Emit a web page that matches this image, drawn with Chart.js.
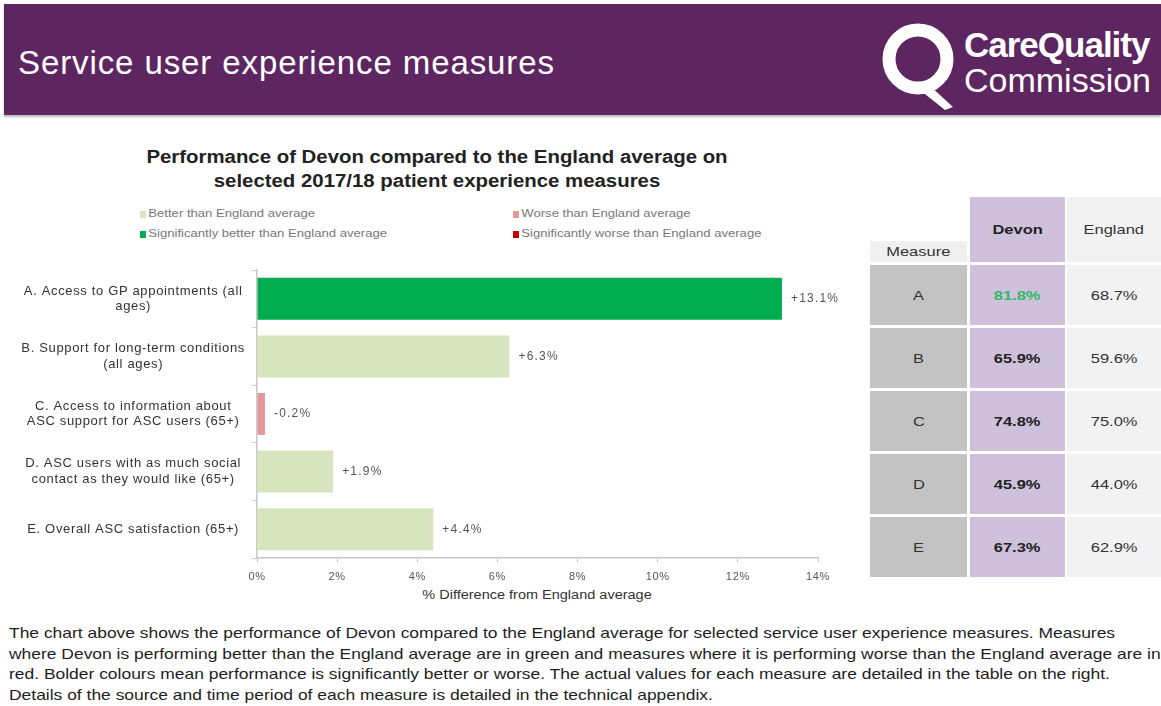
<!DOCTYPE html>
<html>
<head>
<meta charset="utf-8">
<script src="https://cdn.jsdelivr.net/npm/chart.js@4"></script>
<style>
  html,body{margin:0;padding:0;background:#fff;}
  body{width:1161px;height:706px;position:relative;overflow:hidden;font-family:"Liberation Sans",Arial,sans-serif;}
  #band{position:absolute;left:4px;top:4px;width:1157px;height:111px;background:#5d2660;box-shadow:0 2px 2px #bbb;}
  #bandTitle{position:absolute;left:14px;top:40px;color:#fff;font-size:33px;letter-spacing:0.9px;white-space:nowrap;}
  #logo{position:absolute;left:872px;top:10px;}
  #ctitle{position:absolute;left:87px;width:700px;top:145px;text-align:center;font-weight:bold;font-size:17.5px;line-height:24px;color:#222;transform:scaleX(1.165);transform-origin:50% 0;}
  .leg{position:absolute;font-size:11px;color:#777;white-space:nowrap;transform:scaleX(1.19);transform-origin:0 50%;}
  .leg i{display:inline-block;width:5px;height:7px;margin-right:2px;vertical-align:-1px;}
  #wrap{position:absolute;left:0;top:255px;width:860px;height:330px;}
  #xtitle{position:absolute;left:337px;width:400px;top:588px;text-align:center;font-size:12.5px;color:#333;transform:scaleX(1.16);transform-origin:50% 0;}
  #foot{position:absolute;left:9px;top:623px;font-size:14.6px;line-height:20.5px;color:#1e1e1e;white-space:nowrap;transform:scaleX(1.195);transform-origin:0 0;}
  .cell{position:absolute;display:flex;align-items:center;justify-content:center;font-size:13.5px;color:#333;}
  .cell span{display:inline-block;transform:scaleX(1.22);}
</style>
</head>
<body>
<div id="band">
  <div id="bandTitle">Service user experience measures</div>
</div>
<svg id="logo" width="285" height="104" viewBox="0 0 285 104">
  <circle cx="46" cy="49" r="29" fill="none" stroke="#fff" stroke-width="13"/>
  <path d="M56 74 L81 97 L73 100 L48 80 Z" fill="#fff"/>
  <text x="92" y="47" fill="#fff" font-family="Liberation Sans, Arial, sans-serif" font-size="35" font-weight="bold" letter-spacing="-1">CareQuality</text>
  <text x="92" y="82" fill="#fff" font-family="Liberation Sans, Arial, sans-serif" font-size="34">Commission</text>
</svg>

<div id="ctitle">Performance of Devon compared to the England average on<br>selected 2017/18 patient experience measures</div>
<div id="legend"></div>

<div id="wrap"><canvas id="c"></canvas></div>
<div id="xtitle">% Difference from England average</div>
<div id="table"></div>

<div id="foot">The chart above shows the performance of Devon compared to the England average for selected service user experience measures. Measures<br>where Devon is performing better than the England average are in green and measures where it is performing worse than the England average are in<br>red. Bolder colours mean performance is significantly better or worse. The actual values for each measure are detailed in the table on the right.<br>Details of the source and time period of each measure is detailed in the technical appendix.</div>

<script>
// ---- data ----
const measureCodes = ["A", "B", "C", "D", "E"];
const measureLabels = [
  ["A. Access to GP appointments (all", "ages)"],
  ["B. Support for long-term conditions", "(all ages)"],
  ["C. Access to information about", "ASC support for ASC users (65+)"],
  ["D. ASC users with as much social", "contact as they would like (65+)"],
  ["E. Overall ASC satisfaction (65+)"]
];
const differences = [13.1, 6.3, -0.2, 1.9, 4.4];
const status = ["sigBetter", "better", "worse", "better", "better"];
const devonValues = [81.8, 65.9, 74.8, 45.9, 67.3];
const englandValues = [68.7, 59.6, 75.0, 44.0, 62.9];
const xTicks = [0, 2, 4, 6, 8, 10, 12, 14];
const legendItems = [
  {key: "better", text: "Better than England average"},
  {key: "worse", text: "Worse than England average"},
  {key: "sigBetter", text: "Significantly better than England average"},
  {key: "sigWorse", text: "Significantly worse than England average"}
];

// ---- styles ----
const statusColors = {better: "#d7e4bd", sigBetter: "#00ad4f", worse: "#e39999", sigWorse: "#c00000"};

// legend
const legPos = [[140, 207], [513, 207], [140, 227], [513, 227]];
const legEl = document.getElementById("legend");
legendItems.forEach((it, i) => {
  const d = document.createElement("div");
  d.className = "leg";
  d.style.left = legPos[i][0] + "px";
  d.style.top = legPos[i][1] + "px";
  d.innerHTML = '<i style="background:' + statusColors[it.key] + '"></i>' + it.text;
  legEl.appendChild(d);
});

// table
const tbl = document.getElementById("table");
function cell(x, y, w, h, bg, text, extra) {
  const d = document.createElement("div");
  d.className = "cell";
  Object.assign(d.style, {left: x + "px", top: y + "px", width: w + "px", height: h + "px", background: bg}, extra || {});
  const s = document.createElement("span");
  s.textContent = text;
  d.appendChild(s);
  tbl.appendChild(d);
}
cell(870, 241, 97, 21, "#f0f0f0", "Measure");
cell(970, 197, 95, 65, "#cfc1dc", "Devon", {fontWeight: "bold", color: "#222"});
cell(1067, 197, 94, 65, "#f2f2f2", "England");
measureCodes.forEach((code, i) => {
  const y = 265 + i * 63;
  cell(870, y, 97, 60, "#c3c3c3", code);
  cell(970, y, 95, 60, "#cfc1dc", devonValues[i].toFixed(1) + "%",
    {fontWeight: "bold", color: status[i] === "sigBetter" ? "#2fb86b" : "#222"});
  cell(1067, y, 94, 60, "#f2f2f2", englandValues[i].toFixed(1) + "%");
});

// letter spacing to mimic the wide text of the reference
const spacing = {
  id: "spacing",
  beforeLayout(chart) { chart.ctx.letterSpacing = "0.65px"; },
  beforeDraw(chart) { chart.ctx.letterSpacing = "0.65px"; }
};

// value label plugin
const valueLabels = {
  id: "valueLabels",
  afterDatasetsDraw(chart) {
    const ctx = chart.ctx;
    const meta = chart.getDatasetMeta(0);
    ctx.save();
    ctx.letterSpacing = "1.2px";
    ctx.font = "12px 'Liberation Sans', Arial, sans-serif";
    ctx.fillStyle = "#555";
    ctx.textBaseline = "middle";
    ctx.textAlign = "left";
    meta.data.forEach((bar, i) => {
      const v = differences[i];
      const txt = (v >= 0 ? "+" : "") + v.toFixed(1) + "%";
      ctx.fillText(txt, bar.x + 9, bar.y);
    });
    ctx.restore();
  }
};

new Chart(document.getElementById("c"), {
  type: "bar",
  data: {
    labels: measureLabels,
    datasets: [{
      data: differences.map(v => Math.abs(v)),
      backgroundColor: status.map(s => statusColors[s]),
      barPercentage: 0.73,
      categoryPercentage: 1
    }]
  },
  options: {
    indexAxis: "y",
    responsive: true,
    maintainAspectRatio: false,
    animation: false,
    layout: {padding: {top: 15, right: 42, left: 0, bottom: 0}},
    plugins: {legend: {display: false}, tooltip: {enabled: false}},
    scales: {
      x: {
        min: 0, max: 14,
        afterBuildTicks(scale) { scale.ticks = xTicks.map(v => ({value: v})); },
        afterFit(scale) { scale.height = 27; },
        ticks: {callback: v => v + "%", color: "#555", font: {size: 11, family: "'Liberation Sans', Arial, sans-serif"}, padding: 8},
        grid: {drawOnChartArea: false, tickLength: 4, color: "#c8c8c8"},
        border: {color: "#c8c8c8", width: 1.5}
      },
      y: {
        afterFit(scale) { scale.width = 257; },
        ticks: {crossAlign: "center", color: "#333", padding: 7, font: {size: 13, family: "'Liberation Sans', Arial, sans-serif", lineHeight: 1.2}},
        grid: {drawOnChartArea: false, tickLength: 5, color: "#d0d0d0"},
        border: {color: "#c8c8c8", width: 1.5}
      }
    }
  },
  plugins: [spacing, valueLabels]
});
</script>
</body>
</html>
